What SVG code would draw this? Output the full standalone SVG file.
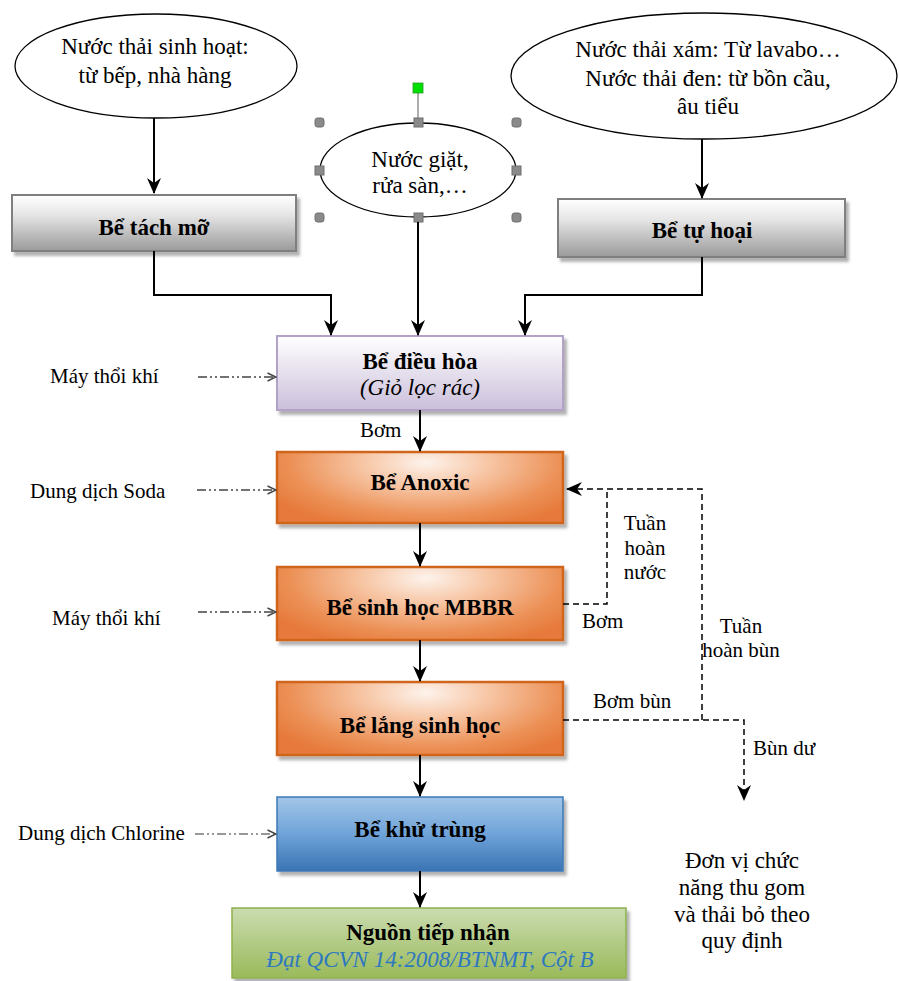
<svg xmlns="http://www.w3.org/2000/svg" width="899" height="981" viewBox="0 0 899 981">
<style>
.t{font-family:"Liberation Serif","Times New Roman",serif;fill:#000}
.s{font-size:21px}
.m{font-size:23px}
.b{font-size:23px;font-weight:bold}
.i{font-size:23px;font-style:italic}
.c{text-anchor:middle}
.ell{fill:#fff;stroke:#000;stroke-width:1.3}
.flow{fill:none;stroke:#000;stroke-width:2;marker-end:url(#ah)}
.dash{fill:none;stroke:#000;stroke-width:1.5;stroke-dasharray:6 4}
.dd{fill:none;stroke:#444;stroke-width:1.6;stroke-dasharray:9 3 2 3 2 3;marker-end:url(#oa)}
.h{fill:#8a8a8a;stroke:#6f6f6f;stroke-width:1}
</style>
<defs>
<marker id="ah" viewBox="0 0 16 16" refX="15" refY="8" markerWidth="16" markerHeight="16" markerUnits="userSpaceOnUse" orient="auto"><path d="M0,1 L16,8 L0,15 L5,8 z" fill="#000"/></marker>
<marker id="oa" viewBox="0 0 10 10" refX="9.5" refY="5" markerWidth="10" markerHeight="10" markerUnits="userSpaceOnUse" orient="auto"><path d="M1,1 L9.5,5 L1,9" fill="none" stroke="#444" stroke-width="1.4"/></marker>
<linearGradient id="gGray" x1="0" y1="0" x2="0" y2="1"><stop offset="0" stop-color="#ffffff"/><stop offset="0.35" stop-color="#e6e6e6"/><stop offset="1" stop-color="#9a9a9a"/></linearGradient>
<linearGradient id="gPur" x1="0" y1="0" x2="0" y2="1"><stop offset="0" stop-color="#ffffff"/><stop offset="1" stop-color="#cbbfdb"/></linearGradient>
<radialGradient id="gOr" cx="0.52" cy="0.15" r="0.9" gradientTransform="translate(0.52 0.15) scale(0.7 1.1) translate(-0.52 -0.15)"><stop offset="0" stop-color="#fdf3ec"/><stop offset="0.35" stop-color="#f7c6a5"/><stop offset="0.75" stop-color="#ec9157"/><stop offset="1" stop-color="#e6793a"/></radialGradient>
<linearGradient id="gBlue" x1="0" y1="0" x2="0" y2="1"><stop offset="0" stop-color="#a3c6e8"/><stop offset="0.5" stop-color="#6fa3d8"/><stop offset="1" stop-color="#3a74b4"/></linearGradient>
<linearGradient id="gGreen" x1="0" y1="0" x2="0" y2="1"><stop offset="0" stop-color="#cadcb0"/><stop offset="1" stop-color="#9aba5a"/></linearGradient>
<filter id="sh" x="-5%" y="-5%" width="115%" height="125%"><feDropShadow dx="3" dy="4" stdDeviation="1.5" flood-color="#000" flood-opacity="0.3"/></filter>
</defs>

<g id="src1">
<ellipse class="ell" cx="156" cy="66" rx="141" ry="52"/>
<text class="t m c" x="155" y="54">Nước thải sinh hoạt:</text>
<text class="t m c" x="155" y="83">từ bếp, nhà hàng</text>
</g>

<g id="src2">
<ellipse class="ell" cx="418" cy="170" rx="98" ry="47"/>
<text class="t m c" x="420" y="167">Nước giặt,</text>
<text class="t m c" x="420" y="193">rửa sàn,…</text>
<line x1="418" y1="88" x2="418" y2="123" stroke="#777" stroke-width="1.2"/>
<rect x="413" y="83" width="10" height="10" fill="#00e000" stroke="#2a9a2a" stroke-width="0.8"/>
<rect class="h" x="315" y="118" width="9" height="9" rx="2.5"/>
<rect class="h" x="512" y="118" width="9" height="9" rx="2.5"/>
<rect class="h" x="315" y="213" width="9" height="9" rx="2.5"/>
<rect class="h" x="512" y="213" width="9" height="9" rx="2.5"/>
<rect class="h" x="414" y="118" width="9" height="9"/>
<rect class="h" x="414" y="213" width="9" height="9"/>
<rect class="h" x="315" y="166" width="9" height="9"/>
<rect class="h" x="512" y="166" width="9" height="9"/>
</g>

<g id="src3">
<ellipse class="ell" cx="704" cy="76" rx="193" ry="63"/>
<text class="t m c" x="708" y="57">Nước thải xám: Từ lavabo…</text>
<text class="t m c" x="708" y="86">Nước thải đen: từ bồn cầu,</text>
<text class="t m c" x="708" y="114">âu tiểu</text>
</g>

<g id="tachmo">
<rect x="12" y="195" width="284" height="56" fill="url(#gGray)" stroke="#7f7f7f" stroke-width="2" filter="url(#sh)"/>
<text class="t b c" x="154" y="235">Bể tách mỡ</text>
</g>

<g id="tuhoai">
<rect x="558" y="199" width="287" height="58" fill="url(#gGray)" stroke="#7f7f7f" stroke-width="2" filter="url(#sh)"/>
<text class="t b c" x="702" y="238">Bể tự hoại</text>
</g>

<g id="dieuhoa">
<rect x="277" y="336" width="286" height="74" fill="url(#gPur)" stroke="#b3a2c7" stroke-width="2" filter="url(#sh)"/>
<text class="t b c" x="420" y="369">Bể điều hòa</text>
<text class="t i c" x="420" y="395">(Giỏ lọc rác)</text>
</g>

<g id="anoxic">
<rect x="277" y="452" width="286" height="71" fill="url(#gOr)" stroke="#d0651f" stroke-width="2.5" filter="url(#sh)"/>
<text class="t b c" x="420" y="490">Bể Anoxic</text>
</g>

<g id="mbbr">
<rect x="277" y="567" width="286" height="73" fill="url(#gOr)" stroke="#d0651f" stroke-width="2.5" filter="url(#sh)"/>
<text class="t b c" x="420" y="615">Bể sinh học MBBR</text>
</g>

<g id="lang">
<rect x="277" y="682" width="286" height="73" fill="url(#gOr)" stroke="#d0651f" stroke-width="2.5" filter="url(#sh)"/>
<text class="t b c" x="420" y="733">Bể lắng sinh học</text>
</g>

<g id="khutrung">
<rect x="277" y="797" width="286" height="74" fill="url(#gBlue)" stroke="#3d78b8" stroke-width="1.5" filter="url(#sh)"/>
<text class="t b c" x="420" y="837">Bể khử trùng</text>
</g>

<g id="nguon">
<rect x="232" y="908" width="394" height="70" fill="url(#gGreen)" stroke="#8fb04e" stroke-width="1.5" filter="url(#sh)"/>
<text class="t b c" x="428" y="940">Nguồn tiếp nhận</text>
<text class="t i c" x="430" y="967" style="fill:#2e78c0">Đạt QCVN 14:2008/BTNMT, Cột B</text>
</g>

<g id="inputs">
<text class="t s" x="50" y="383">Máy thổi khí</text>
<text class="t s" x="30" y="498">Dung dịch Soda</text>
<text class="t s" x="52" y="625">Máy thổi khí</text>
<text class="t s" x="18" y="840">Dung dịch Chlorine</text>
</g>

<g id="bunout">
<text class="t m c" x="742" y="868">Đơn vị chức</text>
<text class="t m c" x="742" y="895">năng thu gom</text>
<text class="t m c" x="742" y="922">và thải bỏ theo</text>
<text class="t m c" x="742" y="948">quy định</text>
</g>

<g id="connectors">
<line class="flow" x1="154" y1="118" x2="154" y2="193"/>
<line class="flow" x1="702" y1="139" x2="702" y2="198"/>
<line class="flow" x1="418" y1="222" x2="418" y2="335"/>
<polyline class="flow" points="154,251 154,295 331,295 331,335"/>
<polyline class="flow" points="702,257 702,295 525,295 525,335"/>
<line class="flow" x1="420" y1="410" x2="420" y2="451"/>
<line class="flow" x1="420" y1="523" x2="420" y2="566"/>
<line class="flow" x1="420" y1="640" x2="420" y2="681"/>
<line class="flow" x1="420" y1="755" x2="420" y2="796"/>
<line class="flow" x1="420" y1="871" x2="420" y2="907"/>
<line class="dd" x1="198" y1="377" x2="276" y2="377"/>
<line class="dd" x1="197" y1="490" x2="276" y2="490"/>
<line class="dd" x1="198" y1="612" x2="276" y2="612"/>
<line class="dd" x1="195" y1="834" x2="276" y2="834" style="stroke:#777"/>
<polyline class="dash" points="563,604 607,604 607,489"/>
<polyline class="dash" points="563,720 744,720 744,790"/>
<polyline class="dash" points="702,720 702,489 567,489" style="marker-end:url(#ah)"/>
<path d="M744,785 L744,800" stroke="none" marker-end="url(#ah)"/>
<text class="t s" x="360" y="437">Bơm</text>
<text class="t s c" x="645" y="530">Tuần</text>
<text class="t s c" x="645" y="555">hoàn</text>
<text class="t s c" x="645" y="579">nước</text>
<text class="t s" x="582" y="628">Bơm</text>
<text class="t s c" x="741" y="633">Tuần</text>
<text class="t s c" x="741" y="657">hoàn bùn</text>
<text class="t s" x="593" y="708">Bơm bùn</text>
<text class="t s" x="753" y="755">Bùn dư</text>
</g>
</svg>
